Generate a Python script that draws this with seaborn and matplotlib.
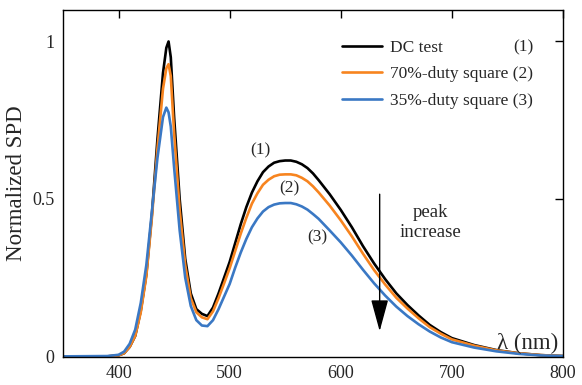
import numpy as np
import pandas as pd
import matplotlib
matplotlib.use("Agg")
import matplotlib.pyplot as plt
import seaborn as sns

wavelength = [350, 390, 400, 405, 410, 415, 420, 425, 430, 435, 440, 443, 445, 447, 450,
              455, 460, 465, 470, 475, 480, 485, 490, 495, 500, 505, 510, 515, 520, 525, 530, 535, 540, 545, 550,
              555, 560, 565, 570, 575, 580, 590, 600, 610, 620, 630, 640, 650, 660, 670, 680, 690, 700,
              720, 740, 760, 780, 800]

dc_test = [0.0, 0.0, 0.003, 0.01, 0.03, 0.065, 0.145, 0.26, 0.45, 0.69, 0.90, 0.98, 1.0, 0.95, 0.76,
           0.50, 0.31, 0.20, 0.15, 0.135, 0.128, 0.155, 0.20, 0.25, 0.30, 0.36, 0.42, 0.474, 0.52, 0.556, 0.585, 0.603, 0.615, 0.620, 0.622,
           0.622, 0.618, 0.610, 0.598, 0.581, 0.56, 0.515, 0.465, 0.41, 0.35, 0.295, 0.245, 0.20, 0.163, 0.13, 0.10, 0.077, 0.058,
           0.036, 0.02, 0.01, 0.004, 0.001]

duty70 = [0.0, 0.0, 0.003, 0.01, 0.03, 0.065, 0.14, 0.255, 0.44, 0.66, 0.85, 0.915, 0.928, 0.89, 0.71,
          0.465, 0.29, 0.185, 0.14, 0.124, 0.118, 0.143, 0.185, 0.232, 0.28, 0.335, 0.39, 0.44, 0.485, 0.518, 0.545, 0.561, 0.572, 0.577, 0.578,
          0.578, 0.575, 0.567, 0.556, 0.540, 0.521, 0.479, 0.432, 0.381, 0.326, 0.274, 0.228, 0.186, 0.152, 0.121, 0.093, 0.072, 0.054,
          0.034, 0.019, 0.01, 0.004, 0.001]

duty35 = [0.0, 0.001, 0.005, 0.015, 0.04, 0.085, 0.17, 0.29, 0.46, 0.63, 0.76, 0.79, 0.775, 0.73, 0.60,
          0.40, 0.25, 0.16, 0.115, 0.098, 0.096, 0.115, 0.15, 0.19, 0.23, 0.282, 0.33, 0.373, 0.41, 0.438, 0.46, 0.474, 0.482, 0.486, 0.487,
          0.487, 0.483, 0.476, 0.466, 0.452, 0.437, 0.40, 0.362, 0.32, 0.275, 0.232, 0.193, 0.158, 0.128, 0.102, 0.079, 0.06, 0.045,
          0.028, 0.016, 0.008, 0.003, 0.001]

series_names = ["DC test", "70%-duty square (2)", "35%-duty square (3)"]
series_colors = ["#000000", "#F7841F", "#3A78C4"]
curve_tags = ["(1)", "(2)", "(3)"]
x_ticks = [400, 500, 600, 700, 800]
y_ticks = [0, 0.5, 1]
y_ticklabels = ["0", "0.5", "1"]

sns.set_theme(style="white")
plt.rcParams["font.family"] = ["Liberation Serif", "DejaVu Serif"]

fig = plt.figure(figsize=(5.82, 3.85), dpi=100)
ax = fig.add_axes([63/582, 1-357/385, 500/582, 347/385])

for name, vals, col in zip(series_names, [dc_test, duty70, duty35], series_colors):
    df = pd.DataFrame({"wl": wavelength, "spd": vals})
    sns.lineplot(data=df, x="wl", y="spd", ax=ax, color=col, lw=1.9, label=name, sort=False)

ax.set_xlim(350, 800)
ax.set_ylim(-0.002, 1.1)
ax.set_xticks(x_ticks)
ax.set_xticklabels([str(t) for t in x_ticks])
ax.set_yticks(y_ticks)
ax.set_yticklabels(y_ticklabels)
ax.set_xlabel("")
ax.set_ylabel("Normalized SPD", fontsize=16.5, labelpad=4)
ax.tick_params(direction="in", length=6, width=1, labelsize=13, top=True, right=True,
               labeltop=False, labelright=False, color="black", pad=6)
for sp in ax.spines.values():
    sp.set_color("black")
    sp.set_linewidth(1.0)

leg = ax.legend(loc="upper left", bbox_to_anchor=(0.545, 0.935), frameon=False, fontsize=12.5,
                handlelength=2.3, handletextpad=0.45, labelspacing=0.6, borderaxespad=0)

# curve labels
ax.text(528, 0.655, curve_tags[0], fontsize=12.5, ha="center", va="center")
ax.text(554, 0.535, curve_tags[1], fontsize=12.5, ha="center", va="center")
ax.text(579, 0.377, curve_tags[2], fontsize=12.5, ha="center", va="center")

ax.text(681, 0.425, "peak\nincrease", fontsize=13.5, ha="center", va="center", linespacing=1.2)
ax.annotate("", xy=(635, 0.08), xytext=(635, 0.515),
            arrowprops=dict(arrowstyle="-|>,head_length=1.1,head_width=0.3", color="black",
                            lw=1.0, mutation_scale=18, shrinkA=0, shrinkB=0))
ax.text(796, 0.006, "λ (nm)", fontsize=16.5, ha="right", va="bottom")

# place "(1)" in the legend aligned with the right end of the other labels
fig.canvas.draw()
r = fig.canvas.get_renderer()
texts = leg.get_texts()
bb0 = texts[0].get_window_extent(r)
bb1 = texts[1].get_window_extent(r)
inv = ax.transAxes.inverted()
xr, _ = inv.transform((bb1.x1, 0))
_, yc = inv.transform((0, (bb0.y0 + bb0.y1) / 2))
ax.text(xr, yc, curve_tags[0], transform=ax.transAxes, fontsize=12.5, ha="right", va="center")

fig.savefig("out.png", dpi=100)
